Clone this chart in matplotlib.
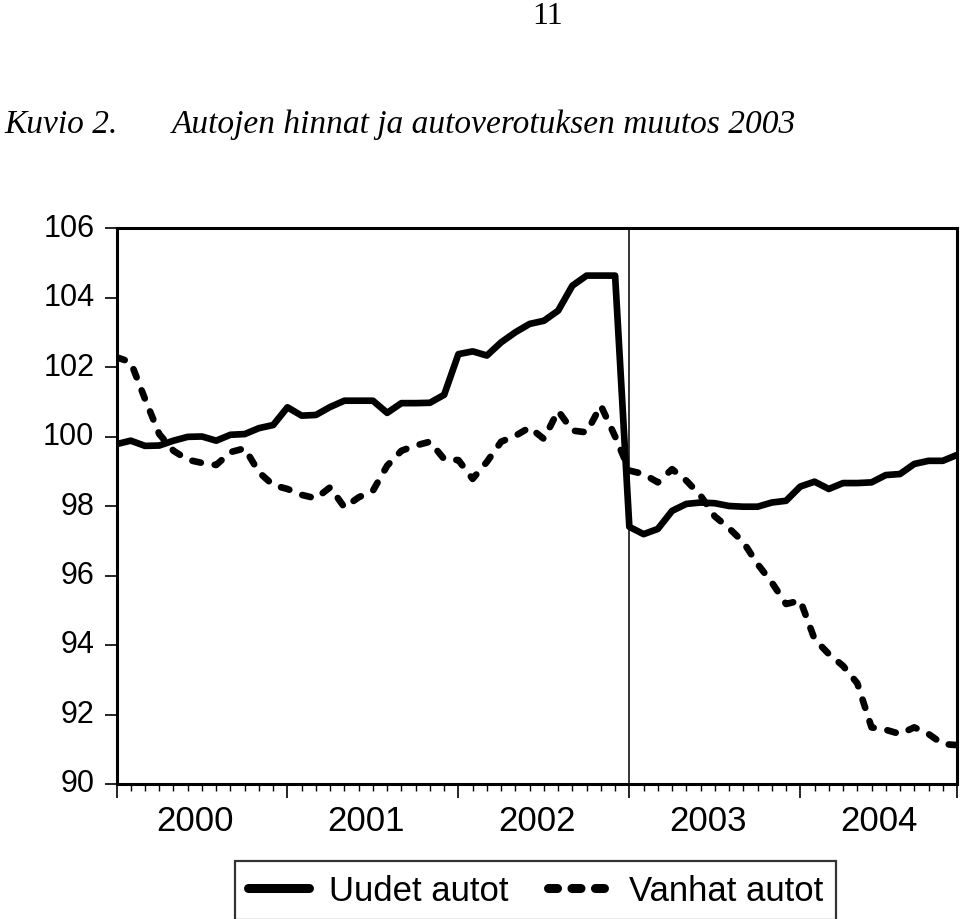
import numpy as np
import matplotlib
matplotlib.use("Agg")
import matplotlib.pyplot as plt
from matplotlib.lines import Line2D
from matplotlib.transforms import blended_transform_factory, ScaledTranslation

# ---- data (monthly, Jan 2000 .. Dec 2004) ----
years = [2000, 2001, 2002, 2003, 2004]
uudet = [99.78, 99.88, 99.73, 99.74, 99.88, 99.99, 100.0, 99.88, 100.05, 100.07,
         100.24, 100.33, 100.84, 100.6, 100.62, 100.85, 101.03, 101.03, 101.03, 100.68,
         100.96, 100.96, 100.97, 101.2, 102.37, 102.45, 102.33, 102.71, 103.0, 103.24,
         103.33, 103.62, 104.34, 104.63, 104.63, 104.63, 97.4, 97.19, 97.34, 97.86,
         98.06, 98.1, 98.08, 98.0, 97.98, 97.98, 98.1, 98.15, 98.56, 98.7,
         98.49, 98.66, 98.66, 98.68, 98.89, 98.92, 99.21, 99.3, 99.3, 99.47]
vanhat = [102.28, 102.14, 101.08, 100.07, 99.59, 99.33, 99.24, 99.18, 99.55, 99.66,
          98.97, 98.6, 98.49, 98.32, 98.22, 98.54, 97.96, 98.25, 98.44, 99.16,
          99.59, 99.74, 99.85, 99.35, 99.32, 98.78, 99.27, 99.85, 100.02, 100.26,
          99.93, 100.74, 100.17, 100.12, 100.89, 100.0, 99.02, 98.92, 98.68, 99.06,
          98.73, 98.3, 97.7, 97.36, 96.96, 96.33, 95.8, 95.18, 95.28, 94.17,
          93.74, 93.4, 92.9, 91.63, 91.56, 91.44, 91.63, 91.44, 91.15, 91.12]
yticks = [90, 92, 94, 96, 98, 100, 102, 104, 106]
series_labels = ["Uudet autot", "Vanhat autot"]
page_number = "11"
fig_label = "Kuvio 2."
title = "Autojen hinnat ja autoverotuksen muutos 2003"
break_year = 2003

months = np.arange(len(uudet))

SANS = "Liberation Sans"
SERIF = "Liberation Serif"

fig = plt.figure(figsize=(9.6, 9.2), dpi=100)
ax = fig.add_axes([116.5 / 960, 1 - 785 / 920, (957 - 116.5) / 960, (785 - 229) / 920])

lw = 4.8
ax.plot(months, uudet, color="black", lw=lw, solid_joinstyle="round", solid_capstyle="butt",
        label=series_labels[0])
ax.plot(months, vanhat, color="black", lw=lw, linestyle=(0, (1.3, 2.1)),
        dash_capstyle="round", dash_joinstyle="round", label=series_labels[1])

# vertical line at the tax change
ax.axvline(years.index(break_year) * 12, color="black", lw=1.1, zorder=1)

ax.set_xlim(0, len(months) - 1)
ax.set_ylim(yticks[0], yticks[-1])
ax.set_yticks(yticks)
ax.set_yticklabels([str(v) for v in yticks], fontsize=22, fontfamily=SANS)
ax.tick_params(axis="y", direction="out", length=9, width=1.2, pad=7)
shift_up = ScaledTranslation(0, 4 / 100, fig.dpi_scale_trans)
for lab in ax.get_yticklabels():
    lab.set_transform(lab.get_transform() + shift_up)

ax.set_xticks([i * 12 for i in range(len(years))] + [len(months) - 1])
ax.set_xticklabels([])
ax.set_xticks(months, minor=True)
ax.tick_params(axis="x", which="major", direction="out", length=10, width=1.2)
ax.tick_params(axis="x", which="minor", direction="out", length=5, width=1.0)

trans = blended_transform_factory(ax.transData, ax.transAxes)
for i, yr in enumerate(years):
    ax.text(i * 12 + 5.5, -0.036, str(yr), transform=trans, ha="center", va="top",
            fontsize=25, fontfamily=SANS)

for s in ax.spines.values():
    s.set_linewidth(2.2)

# texts above chart
fig.text(548 / 960, 1 - 17 / 920, page_number, ha="center", va="center",
         fontsize=23, fontfamily=SERIF)
fig.text(4 / 960, 1 - 125 / 920, fig_label, ha="left", va="center",
         fontsize=24, fontfamily=SERIF, style="italic")
fig.text(172 / 960, 1 - 125 / 920, title, ha="left", va="center",
         fontsize=24, fontfamily=SERIF, style="italic")

handles = [Line2D([], [], color="black", lw=6.5, solid_capstyle="round"),
           Line2D([], [], color="black", lw=6.5, linestyle=(0, (1.0, 1.6)), dash_capstyle="round")]
leg = fig.legend(handles, series_labels, loc="center", bbox_to_anchor=(535.5 / 960, 1 - 891.5 / 920),
                 ncol=2, frameon=True, fancybox=False, handlelength=1.75,
                 handletextpad=0.58, columnspacing=1.15, borderpad=0.38,
                 prop={"family": SANS, "size": 25})
leg.get_frame().set_edgecolor("black")
leg.get_frame().set_linewidth(1.6)

fig.savefig("out.png", dpi=100)
